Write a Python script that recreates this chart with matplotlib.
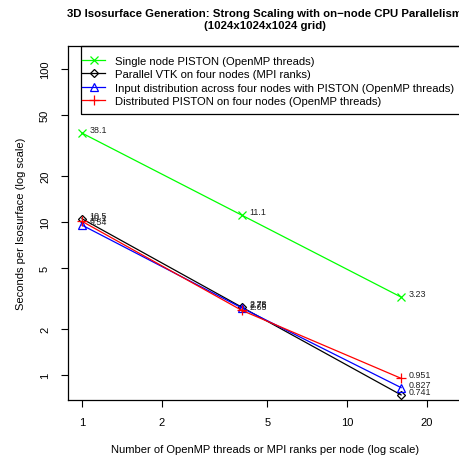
import matplotlib
matplotlib.use('Agg')
import matplotlib.pyplot as plt
from matplotlib.patches import Rectangle

plt.rcParams['font.family'] = ['Liberation Sans', 'DejaVu Sans']

# Data
THREADS = [1, 4, 16]
SINGLE_PISTON = [38.1, 11.1, 3.23]
PARALLEL_VTK = [10.5, 2.78, 0.741]
INPUT_DIST = [9.54, 2.75, 0.827]
DIST_PISTON = [10.1, 2.65, 0.951]

SERIES = [
    ('Single node PISTON (OpenMP threads)', SINGLE_PISTON, '#00ff00', 'x'),
    ('Parallel VTK on four nodes (MPI ranks)', PARALLEL_VTK, 'black', 'D'),
    ('Input distribution across four nodes with PISTON (OpenMP threads)', INPUT_DIST, 'blue', '^'),
    ('Distributed PISTON on four nodes (OpenMP threads)', DIST_PISTON, 'red', '+'),
]
XTICKS = [1, 2, 5, 10, 20]
YTICKS = [1, 2, 5, 10, 20, 50, 100]

W, H = 460, 456
AX_L, AX_R, AX_T, AX_B = 68, 462, 47, 401
fig = plt.figure(figsize=(W / 100, H / 100), dpi=100)
ax = fig.add_axes([AX_L / W, 1 - AX_B / H, (AX_R - AX_L) / W, (AX_B - AX_T) / H])


def ax_x(px):
    return (px - AX_L) / (AX_R - AX_L)


def ax_y(py):
    return (AX_B - py) / (AX_B - AX_T)


for label, vals, color, marker in SERIES:
    mfc = 'none' if marker in ('D', '^') else color
    msize = {'x': 5.5, 'D': 4.2, '^': 5.5, '+': 6.5}[marker]
    ax.plot(THREADS, vals, '-', color=color, marker=marker, markersize=msize,
            markerfacecolor=mfc, markeredgecolor=color, linewidth=0.9, markeredgewidth=0.9,
            label=label)
    for x, v in zip(THREADS, vals):
        ax.annotate(f'{v:g}', (x, v), xytext=(5.5, 2.5), textcoords='offset points',
                    fontsize=6.4, color='#222222', ha='left', va='center')

ax.set_xscale('log')
ax.set_yscale('log')
ax.set_xlim(10 ** -0.0528, 10 ** 1.434)
ax.set_ylim(10 ** -0.1634, 10 ** 2.150)
ax.set_xticks(XTICKS)
ax.set_xticklabels([str(t) for t in XTICKS])
ax.set_yticks(YTICKS)
ax.set_yticklabels([str(t) for t in YTICKS], rotation=90, va='center')
ax.minorticks_off()
ax.tick_params(axis='both', length=5, width=0.8, labelsize=8, color='black')
ax.tick_params(axis='x', pad=7)
ax.tick_params(axis='y', pad=8)
for s in ax.spines.values():
    s.set_linewidth(0.9)

ax.set_xlabel('Number of OpenMP threads or MPI ranks per node (log scale)', fontsize=8)
ax.set_ylabel('Seconds per Isosurface (log scale)', fontsize=8)
ax.xaxis.set_label_coords(ax_x(265), ax_y(450))
ax.xaxis.label.set_va('center')
ax.yaxis.set_label_coords(ax_x(21), ax_y(224))
ax.yaxis.label.set_va('center')

fig.text(265 / W, 1 - 20 / H,
         '3D Isosurface Generation: Strong Scaling with on\u2212node CPU Parallelism\n(1024x1024x1024 grid)',
         ha='center', va='center', fontsize=8.2, fontweight='bold', linespacing=1.15)

# legend: entries without frame, box drawn separately (it runs off the right edge)
leg = ax.legend(loc='upper left', bbox_to_anchor=(ax_x(82), ax_y(57)), borderaxespad=0,
                fontsize=8.1, frameon=False, handlelength=2.05, handletextpad=0.9,
                labelspacing=0.3, borderpad=0)
ax.add_patch(Rectangle((ax_x(81), ax_y(115)), ax_x(475) - ax_x(81), ax_y(47) - ax_y(115),
                       transform=ax.transAxes, facecolor='none', edgecolor='black',
                       linewidth=0.9, clip_on=False, zorder=5))

fig.savefig('out.png', dpi=100)
